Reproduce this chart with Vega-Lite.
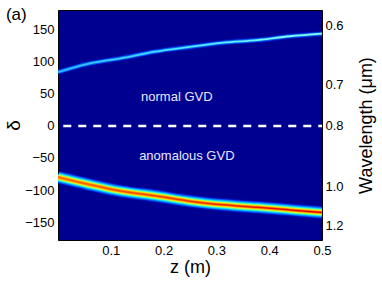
{
  "$schema": "https://vega.github.io/schema/vega-lite/v6.json",
  "width": 264,
  "height": 230,
  "autosize": {"type": "none"},
  "padding": {"left": 58, "top": 10, "right": 60, "bottom": 48},
  "background": "white",
  "config": {
    "font": "Liberation Sans",
    "view": {"fill": "#000090", "stroke": "black", "strokeWidth": 1}
  },
  "datasets": {
    "upper": [
      {"z": 0.0, "d": 84},
      {"z": 0.057, "d": 97},
      {"z": 0.121, "d": 106},
      {"z": 0.184, "d": 116},
      {"z": 0.246, "d": 123},
      {"z": 0.3125, "d": 130},
      {"z": 0.377, "d": 134},
      {"z": 0.439, "d": 140},
      {"z": 0.5, "d": 144}
    ],
    "lower": [
      {"z": 0.0, "d": -80},
      {"z": 0.057, "d": -91},
      {"z": 0.121, "d": -102},
      {"z": 0.184, "d": -109},
      {"z": 0.246, "d": -117},
      {"z": 0.3125, "d": -123},
      {"z": 0.377, "d": -127},
      {"z": 0.439, "d": -131},
      {"z": 0.5, "d": -135}
    ],
    "dash": [{"z": 0.01, "z2": 0.5, "d": 0}],
    "notes": [
      {"z": 0.225, "d": 45, "t": "normal GVD"},
      {"z": 0.244, "d": -47, "t": "anomalous GVD"}
    ],
    "panel": [{"z": -0.079, "d": 173, "t": "(a)"}]
  },
  "encoding": {
    "x": {
      "field": "z",
      "type": "quantitative",
      "scale": {"domain": [0, 0.5], "nice": false, "zero": false},
      "axis": {
        "values": [0.1, 0.2, 0.3, 0.4, 0.5],
        "format": ".1f",
        "labelFontSize": 13,
        "labelColor": "black",
        "labelPadding": 4,
        "labelFlush": false,
        "tickSize": 0,
        "domain": false,
        "grid": false,
        "title": "z (m)",
        "titleFontSize": 18,
        "titleFontWeight": "normal",
        "titleColor": "black",
        "titlePadding": 1
      }
    }
  },
  "layer": [
    {
      "encoding": {
        "y": {
          "field": "d",
          "type": "quantitative",
          "scale": {"domain": [-178, 181], "nice": false, "zero": false},
          "axis": {
            "values": [-150, -100, -50, 0, 50, 100, 150],
            "labelFontSize": 13,
            "labelColor": "black",
            "labelPadding": 4,
            "labelFlush": false,
            "tickSize": 0,
            "domain": false,
            "grid": false,
            "title": "δ",
            "titleFontSize": 19,
            "titleFontWeight": "normal",
            "titleColor": "black",
            "titlePadding": 1
          }
        }
      },
      "layer": [
        {"data": {"name": "upper"}, "mark": {"type": "line", "interpolate": "monotone", "clip": true, "strokeWidth": 5.5, "color": "#0020E0", "opacity": 0.5}},
        {"data": {"name": "upper"}, "mark": {"type": "line", "interpolate": "monotone", "clip": true, "strokeWidth": 3.6, "color": "#0070FF", "opacity": 0.9}},
        {"data": {"name": "upper"}, "mark": {"type": "line", "interpolate": "monotone", "clip": true, "strokeWidth": 1.8,
          "color": {"gradient": "linear", "x1": 0, "y1": 0, "x2": 1, "y2": 0,
            "stops": [{"offset": 0, "color": "#30B8FF"}, {"offset": 0.5, "color": "#50E8FF"}, {"offset": 1, "color": "#90FFE0"}]}}},
        {"data": {"name": "lower"}, "mark": {"type": "line", "interpolate": "monotone", "clip": true, "strokeWidth": 13, "color": "#0020E0", "opacity": 0.6}},
        {"data": {"name": "lower"}, "mark": {"type": "line", "interpolate": "monotone", "clip": true, "strokeWidth": 11, "color": "#0060FF"}},
        {"data": {"name": "lower"}, "mark": {"type": "line", "interpolate": "monotone", "clip": true, "strokeWidth": 9, "color": "#00B0FF"}},
        {"data": {"name": "lower"}, "mark": {"type": "line", "interpolate": "monotone", "clip": true, "strokeWidth": 7.5, "color": "#20F0E8"}},
        {"data": {"name": "lower"}, "mark": {"type": "line", "interpolate": "monotone", "clip": true, "strokeWidth": 6, "color": "#90FF70"}},
        {"data": {"name": "lower"}, "mark": {"type": "line", "interpolate": "monotone", "clip": true, "strokeWidth": 4.5, "color": "#FFE800"}},
        {"data": {"name": "lower"}, "mark": {"type": "line", "interpolate": "monotone", "clip": true, "strokeWidth": 3, "color": "#FF9000"}},
        {"data": {"name": "lower"}, "mark": {"type": "line", "interpolate": "monotone", "clip": true, "strokeWidth": 1.5,
          "color": {"gradient": "linear", "x1": 0, "y1": 0, "x2": 1, "y2": 0,
            "stops": [{"offset": 0, "color": "#FF7000"}, {"offset": 1, "color": "#E00000"}]}}},
        {"data": {"name": "notes"}, "mark": {"type": "text", "fontSize": 13, "color": "#E8E8FF", "align": "center", "baseline": "middle", "font": "Liberation Sans"},
          "encoding": {"text": {"field": "t", "type": "nominal"}}},
        {"data": {"name": "panel"}, "mark": {"type": "text", "fontSize": 17, "color": "black", "align": "center", "baseline": "middle", "font": "Liberation Sans", "clip": false},
          "encoding": {"text": {"field": "t", "type": "nominal"}}}
      ]
    },
    {
      "data": {"name": "dash"},
      "mark": {"type": "rule", "color": "white", "strokeWidth": 2.5, "strokeDash": [8, 7]},
      "encoding": {
        "x2": {"field": "z2"},
        "y": {
          "field": "d",
          "type": "quantitative",
          "scale": {"domain": [-178, 181], "nice": false, "zero": false},
          "axis": {
            "orient": "right",
            "values": [157, 64, 0, -94, -156],
            "labelExpr": "datum.value == 157 ? '0.6' : datum.value == 64 ? '0.7' : datum.value == 0 ? '0.8' : datum.value == -94 ? '1.0' : '1.2'",
            "labelFontSize": 13,
            "labelColor": "black",
            "labelPadding": 3,
            "labelFlush": false,
            "tickSize": 0,
            "domain": false,
            "grid": false,
            "title": "Wavelength (μm)",
            "titleFontSize": 18,
            "titleFontWeight": "normal",
            "titleColor": "black",
            "titleAngle": 270,
            "titleBaseline": "top",
            "titlePadding": 14
          }
        }
      }
    }
  ],
  "resolve": {"scale": {"y": "independent"}}
}
